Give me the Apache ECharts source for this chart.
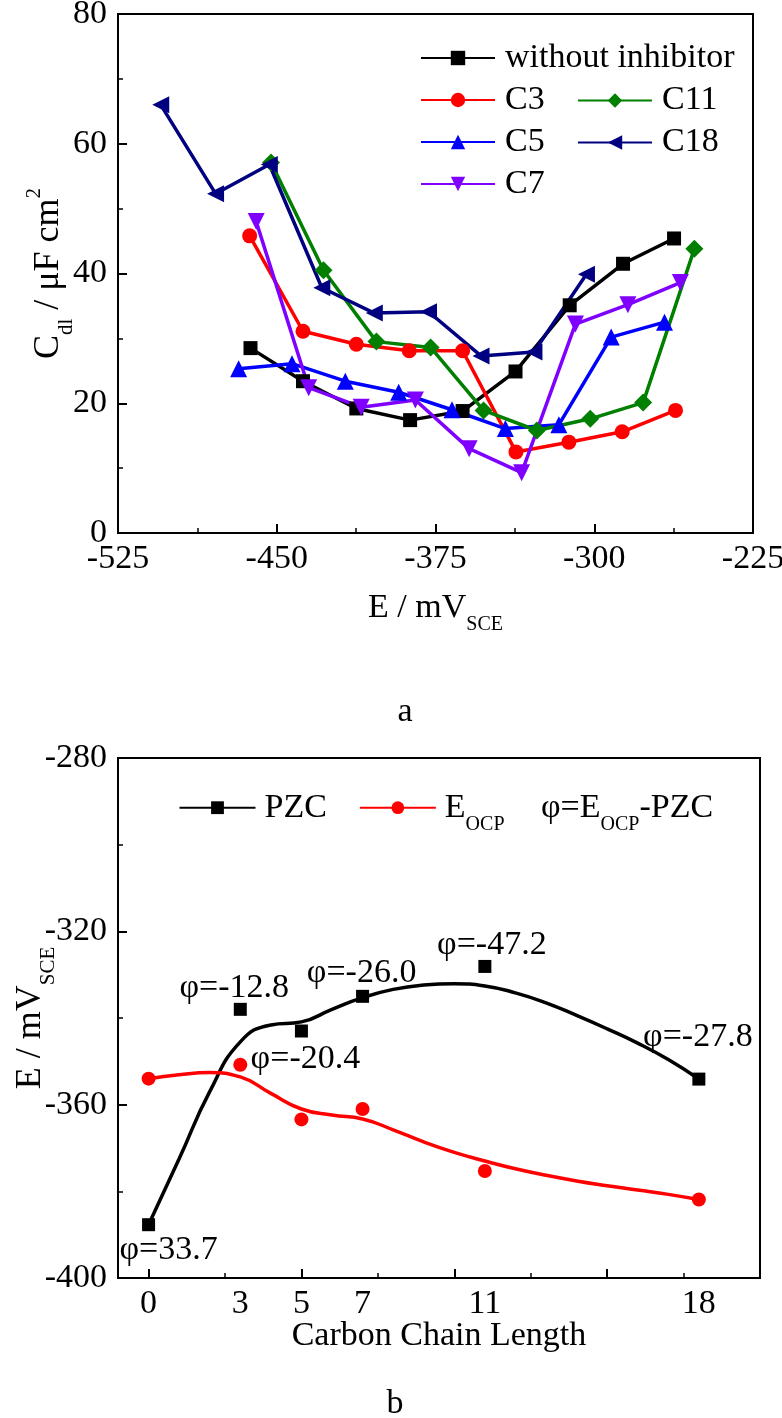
<!DOCTYPE html>
<html><head><meta charset="utf-8">
<script src="https://cdn.jsdelivr.net/npm/echarts@6/dist/echarts.min.js"></script>
<style>html,body{margin:0;padding:0;background:#fff}#c{width:782px;height:1418px}</style>
</head><body><div id="c"></div>
<script>
// ---------- Panel a data: E (mV vs SCE) and Cdl (uF cm^-2) ----------
const eWithout  = [-462.4, -437.6, -412.4, -387.0, -362.2, -337.2, -311.6, -286.4, -262.3];
const cdlWithout = [28.5, 23.4, 19.2, 17.4, 18.8, 24.9, 35.1, 41.5, 45.4];
const eC3  = [-462.8, -437.6, -412.4, -387.4, -362.2, -337.0, -312.0, -286.8, -261.6];
const cdlC3 = [45.8, 31.1, 29.1, 28.1, 28.1, 12.5, 14.0, 15.6, 18.9];
const eC5  = [-468.0, -442.8, -417.6, -392.4, -367.2, -342.0, -316.7, -292.0, -266.8];
const cdlC5 = [25.3, 26.1, 23.4, 21.7, 19.0, 16.1, 16.7, 30.2, 32.5];
const eC7  = [-459.7, -434.9, -410.1, -384.5, -359.1, -334.3, -308.9, -284.1, -259.3];
const cdlC7 = [48.0, 22.4, 19.4, 20.5, 13.0, 9.3, 32.2, 35.2, 38.6];
const eC11 = [-452.7, -427.9, -402.9, -377.3, -352.3, -327.1, -301.9, -276.9, -252.7];
const cdlC11 = [57.1, 40.5, 29.5, 28.6, 18.9, 15.8, 17.6, 20.1, 43.8];
const eC18 = [-504.8, -478.9, -453.5, -428.7, -403.9, -378.3, -353.5, -328.5, -303.7];
const cdlC18 = [66.0, 52.3, 56.8, 37.8, 33.9, 34.1, 27.3, 27.9, 39.9];
const namesA = ['without inhibitor', 'C3', 'C5', 'C7', 'C11', 'C18'];

// ---------- Panel b data ----------
const chainLength = [0, 3, 5, 7, 11, 18];
const pzc  = [-387.7, -338.0, -343.0, -335.0, -328.1, -354.1];
const eocp = [-354.0, -350.8, -363.4, -361.0, -375.3, -381.9];
const phiLabels = ['\u03c6=33.7', '\u03c6=-12.8', '\u03c6=-20.4', '\u03c6=-26.0', '\u03c6=-47.2', '\u03c6=-27.8'];
// fitted curves
const fitX = [0, 1, 2, 3, 4, 5, 6, 7, 8, 9, 10, 11, 12, 13, 14, 15, 16, 17, 18];
const pzcFit  = [-387.7, -372.5, -357.0, -345.5, -341.6, -340.9, -338.0, -335.3, -333.4, -332.4, -332.1, -332.6, -334.2, -336.5, -339.4, -342.5, -345.8, -349.6, -354.1];
const eocpFit = [-354.0, -353.1, -352.6, -353.6, -357.4, -361.0, -362.4, -363.3, -365.8, -368.6, -371.0, -373.0, -374.8, -376.3, -377.6, -378.7, -379.7, -380.7, -381.9];

// tick labels
const chainTickLabels = [0, 3, 5, 7, 11, 18];
const chainMajorTicks = [0, 5, 10, 15];
const chainMinorTicks = [2.5, 7.5, 12.5, 17.5];

// ---------- styles (kept apart from data) ----------
const FONT = "'Liberation Serif','Times New Roman',serif";
const FS = 34;
const txt = { fontFamily: FONT, fontSize: FS, color: '#000' };
function tok(fs, lh, pad) {
  const t = { fontFamily: FONT, fontSize: fs, lineHeight: lh, color: '#000', fill: '#000', verticalAlign: 'middle' };
  if (pad) t.padding = pad;
  return t;
}
const rich = { m: tok(FS, 36), s: tok(20, 20, [34, 0, 0, 0]) };
const richY = { m: tok(36, 38), s: tok(21, 21, [35, 0, 0, 0]), p: tok(21, 21, [0, 0, 29, 0]) };

const styleA = [
  { color: '#000000', symbol: 'rect', size: 14, rotate: 0 },
  { color: '#FF0000', symbol: 'circle', size: 15, rotate: 0 },
  { color: '#0000FF', symbol: 'triangle', size: 17, rotate: 0 },
  { color: '#7F00FF', symbol: 'triangle', size: 17, rotate: 180 },
  { color: '#007F00', symbol: 'diamond', size: 18, rotate: 0 },
  { color: '#000080', symbol: 'triangle', size: 17, rotate: 90 }
];
const phiOffsets = [[20, 25], [-6, -21], [4, 28], [-1, -23], [7, -21], [-1, -42]];

function pairs(xs, ys) { return xs.map((x, i) => [x, ys[i]]); }

const dataA = [
  pairs(eWithout, cdlWithout), pairs(eC3, cdlC3), pairs(eC5, cdlC5),
  pairs(eC7, cdlC7), pairs(eC11, cdlC11), pairs(eC18, cdlC18)
];

function axis(o) {
  return Object.assign({
    type: 'value',
    axisLine: { show: true, onZero: false, lineStyle: { color: '#000', width: 2 } },
    axisTick: { show: true, inside: true, length: 9, lineStyle: { color: '#000', width: 2 } },
    minorTick: { show: true, splitNumber: 2, length: 5, lineStyle: { color: '#000', width: 1.5 } },
    axisLabel: Object.assign({ margin: 9 }, txt),
    splitLine: { show: false },
    nameLocation: 'middle',
    nameMoveOverlap: false,
    nameTextStyle: Object.assign({ rich: rich }, txt)
  }, o);
}

const seriesA = namesA.map((n, i) => ({
  type: 'line', name: n, xAxisIndex: 0, yAxisIndex: 0,
  data: dataA[i],
  symbol: styleA[i].symbol, symbolSize: styleA[i].size, symbolRotate: styleA[i].rotate,
  showAllSymbol: true,
  lineStyle: { color: styleA[i].color, width: 3.5 },
  itemStyle: { color: styleA[i].color, opacity: 1 },
  emphasis: { disabled: true }
}));

const seriesB = [
  { type: 'line', name: 'PZC', xAxisIndex: 1, yAxisIndex: 1, data: pairs(fitX, pzcFit), smooth: 0.5,
    symbol: 'rect', symbolSize: 13, showSymbol: false,
    lineStyle: { color: '#000', width: 3.5 }, itemStyle: { color: '#000' } },
  { type: 'line', name: 'EOCP', xAxisIndex: 1, yAxisIndex: 1, data: pairs(fitX, eocpFit), smooth: 0.5,
    symbol: 'circle', symbolSize: 13, showSymbol: false,
    lineStyle: { color: '#FF0000', width: 3.5 }, itemStyle: { color: '#FF0000' } },
  { type: 'scatter', name: 'EOCP points', xAxisIndex: 1, yAxisIndex: 1, data: pairs(chainLength, eocp),
    symbol: 'circle', symbolSize: 14, itemStyle: { color: '#FF0000', opacity: 1 }, z: 3,
    emphasis: { disabled: true } },
  { type: 'scatter', name: 'PZC points', xAxisIndex: 1, yAxisIndex: 1,
    data: chainLength.map((c, i) => ({ value: [c, pzc[i]], label: { offset: phiOffsets[i] } })),
    symbol: 'rect', symbolSize: 13, itemStyle: { color: '#000', opacity: 1 }, z: 4,
    emphasis: { disabled: true },
    label: Object.assign({ show: true, position: 'inside', opacity: 1, formatter: p => phiLabels[p.dataIndex] }, txt) }
];

const option = {
  animation: false,
  backgroundColor: '#fff',
  grid: [
    { left: 118, top: 14, width: 635, height: 519, show: true, borderColor: '#000', borderWidth: 2,
      backgroundColor: 'transparent', containLabel: false, outerBoundsMode: 'none' },
    { left: 118, top: 758, width: 642, height: 520, show: true, borderColor: '#000', borderWidth: 2,
      backgroundColor: 'transparent', containLabel: false, outerBoundsMode: 'none' }
  ],
  xAxis: [
    axis({ gridIndex: 0, min: -525, max: -225, interval: 75, name: '{m|E / mV}{s|SCE}', nameGap: 57 }),
    axis({ gridIndex: 1, position: 'bottom', min: -1, max: 20, name: 'Carbon Chain Length', nameGap: 41,
      axisTick: { show: true, inside: true, length: 9, customValues: chainMajorTicks, lineStyle: { color: '#000', width: 2 } },
      axisLabel: Object.assign({ margin: 9, customValues: chainTickLabels }, txt),
      minorTick: { show: false } }),
    axis({ gridIndex: 1, position: 'bottom', min: -1, max: 20,
      axisLine: { show: false },
      axisTick: { show: true, inside: true, length: 5, customValues: chainMinorTicks, lineStyle: { color: '#000', width: 1.5 } },
      axisLabel: { show: false }, minorTick: { show: false } })
  ],
  yAxis: [
    axis({ gridIndex: 0, min: 0, max: 80, interval: 20, name: '{m|C}{s|dl}{m| / \u03bcF cm}{p|2}', nameGap: 50,
      nameTextStyle: Object.assign({ rich: richY }, txt, { fontSize: 36 }),
      axisLabel: Object.assign({ margin: 11 }, txt) }),
    axis({ gridIndex: 1, min: -400, max: -280, interval: 40, name: '{m|E / mV}{s|SCE}', nameGap: 68,
      nameTextStyle: Object.assign({ rich: richY }, txt, { fontSize: 36 }),
      axisLabel: Object.assign({ margin: 11 }, txt) })
  ],
  legend: [
    { data: ['without inhibitor', 'C3', 'C5', 'C7'], orient: 'vertical', left: 420, top: 40, padding: 0,
      itemWidth: 74, itemHeight: 18, itemGap: 6, selectedMode: false,
      textStyle: Object.assign({ lineHeight: 36, padding: [0, 0, 0, 5] }, txt) },
    { data: ['C11', 'C18'], orient: 'vertical', left: 577, top: 82.5, padding: 0,
      itemWidth: 74, itemHeight: 18, itemGap: 6, selectedMode: false,
      textStyle: Object.assign({ lineHeight: 36, padding: [0, 0, 0, 5] }, txt) },
    { data: ['PZC', 'EOCP'], orient: 'horizontal', left: 178.5, top: 780.7, padding: 0,
      itemWidth: 76, itemHeight: 16, itemGap: 32, selectedMode: false,
      formatter: n => n === 'EOCP' ? '{m|E}{s|OCP}' : '{m|' + n + '}',
      textStyle: Object.assign({ rich: rich, padding: [0, 0, 0, 4] }, txt) }
  ],
  graphic: [
    { type: 'text', x: 405, y: 712, style: { text: 'a', fill: '#000', font: FS + 'px ' + FONT, align: 'center', verticalAlign: 'middle' } },
    { type: 'text', x: 395, y: 1404, style: { text: 'b', fill: '#000', font: FS + 'px ' + FONT, align: 'center', verticalAlign: 'middle' } },
    { type: 'text', x: 541, y: 808, style: { text: '{m|\u03c6=E}{s|OCP}{m|-PZC}', rich: rich, fill: '#000', font: FS + 'px ' + FONT, align: 'left', verticalAlign: 'middle' } }
  ],
  series: seriesA.concat(seriesB)
};

const chart = echarts.init(document.getElementById('c'), null, { renderer: 'canvas', width: 782, height: 1418 });
chart.setOption(option);
</script>
</body></html>
